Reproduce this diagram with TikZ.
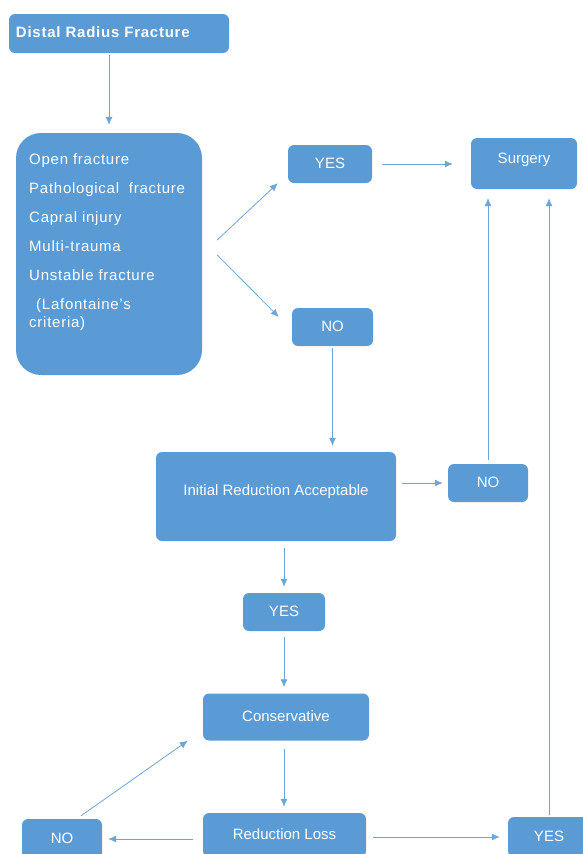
\documentclass[tikz,border=0pt]{standalone}
\usepackage{fontspec}
\setmainfont{Liberation Sans}
\newfontfamily\spacedfont[LetterSpace=5]{Liberation Sans}
\usetikzlibrary{arrows.meta,calc}
\definecolor{boxblue}{HTML}{5B9BD5}

\begin{document}
\begin{tikzpicture}[x=1pt, y=-1pt,
    box/.style={fill=boxblue, rounded corners=6pt, text=white, inner sep=0pt,
        font=\fontsize{15}{18}\selectfont, text height=11pt, text depth=3pt},
    arr/.style={draw=boxblue!90, line width=0.8pt, -{Latex[length=8pt,width=7pt]}}]
        \clip (0,0) rectangle (583,854);
        % boxes
        \node[box, minimum width=220pt, minimum height=39pt, text width=206pt, align=left,
            font=\spacedfont\bfseries\fontsize{15}{18}\selectfont] (dist) at (119,33.5) {Distal Radius Fracture};
        \node[box, rounded corners=25pt, minimum width=186pt, minimum height=242pt] (crit) at (109,254) {};
        \node[anchor=north west, inner sep=0pt, text=white, align=left,
            font=\spacedfont\fontsize{15}{29}\selectfont] (crittxt) at (29,153)
            {Open fracture\\Pathological\ \ fracture\\Capral injury\\Multi-trauma\\Unstable fracture\\\hspace*{7pt}(Lafontaine’s\\[-11pt]criteria)};
        \node[box, minimum width=84pt, minimum height=38pt] (yes1) at (330,164) {YES};
        \node[box, minimum width=106pt, minimum height=51pt, text depth=12pt] (surg) at (524,163.5) {Surgery};
        \node[box, minimum width=81pt, minimum height=38pt] (no1) at (332.5,327) {NO};
        \node[box, minimum width=240pt, minimum height=89pt, text depth=13pt] (init) at (276,496.5) {Initial Reduction Acceptable};
        \node[box, minimum width=80pt, minimum height=38pt] (no2) at (488,483) {NO};
        \node[box, minimum width=82pt, minimum height=38pt] (yes2) at (284,612) {YES};
        \node[box, minimum width=166pt, minimum height=47pt] (cons) at (286,717) {Conservative};
        \node[box, minimum width=163pt, minimum height=44pt] (loss) at (284.5,835) {Reduction Loss};
        \node[box, minimum width=80pt, minimum height=40pt] (no3) at (62,839) {NO};
        \node[box, minimum width=82pt, minimum height=40pt] (yes3) at (549,837) {YES};
        % arrows
        \draw[arr, shorten <=2pt, shorten >=8pt] (dist.south -| crit.north) -- (crit.north);
        \draw[arr] ($(crit.east)+(15,-14)$) -- ($(yes1.south west)+(-10,0)$);
        \draw[arr] ($(crit.east)+(15,1)$) -- ($(no1.west)+(-13,-10)$);
        \draw[arr, shorten <=10pt, shorten >=18pt] (yes1.east) -- (yes1.east -| surg.west);
        \draw[arr, shorten <=2pt, shorten >=6pt] (no1.south) -- (no1.south |- init.north);
        \draw[arr, shorten <=6pt, shorten >=5pt] (no2.west -| init.east) -- (no2.west);
        \draw[arr, shorten <=4pt, shorten >=9pt] (no2.north) -- (no2.north |- surg.south);
        \draw[arr, shorten <=2pt, shorten >=9pt] (yes3.north) -- (yes3.north |- surg.south);
        \draw[arr, shorten <=7pt, shorten >=6pt] (init.south -| yes2.north) -- (yes2.north);
        \draw[arr, shorten <=6pt, shorten >=6pt] (yes2.south) -- (yes2.south |- cons.north);
        \draw[arr, shorten <=8pt, shorten >=6pt] (cons.south -| yes2.south) -- (loss.north -| yes2.south);
        \draw[arr, shorten <=10pt, shorten >=6pt] (loss.west |- no3.east) -- (no3.east);
        \draw[arr, shorten <=7pt, shorten >=8pt] (loss.east |- yes3.west) -- (yes3.west);
        \draw[arr] ($(no3.north)+(19,-3)$) -- ($(cons.south west)+(-15,0)$);
\end{tikzpicture}
\end{document}
